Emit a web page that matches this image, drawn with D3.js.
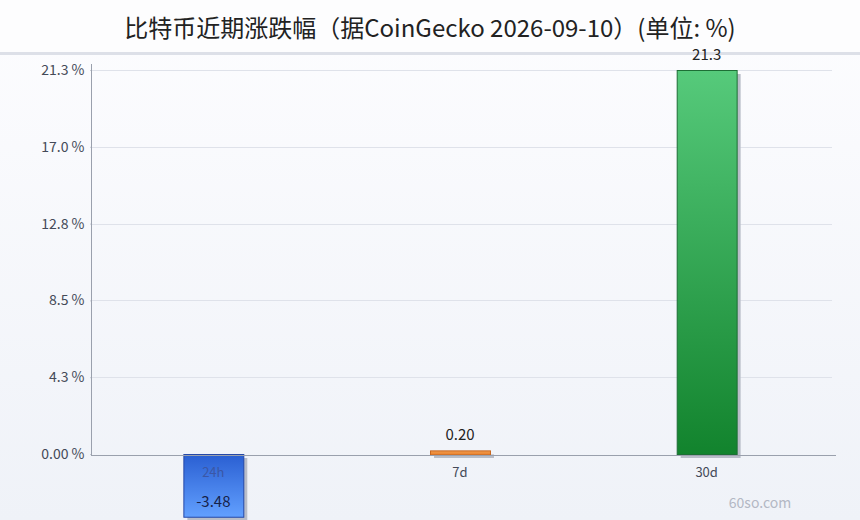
<!DOCTYPE html>
<html>
<head>
<meta charset="utf-8">
<script src="https://cdn.jsdelivr.net/npm/d3@7"></script>
<style>
  html, body { margin: 0; padding: 0; }
  body { width: 860px; height: 520px; overflow: hidden; }
  svg { display: block; font-family: "Noto Sans CJK SC", "Noto Sans", sans-serif; }
</style>
</head>
<body>
<div id="chart"></div>
<script>
'use strict';

// data
const titleText = "比特币近期涨跌幅（据CoinGecko 2026-09-10）(单位: %)";
const categories = ["24h", "7d", "30d"];
const changes = [-3.48, 0.20, 21.3];
const valueLabels = ["-3.48", "0.20", "21.3"];
const yTicks = [0, 4.26, 8.52, 12.78, 17.04, 21.3];
const yTickLabels = ["0.00 %", "4.3 %", "8.5 %", "12.8 %", "17.0 %", "21.3 %"];

const width = 860, height = 520;
const margin = {top: 70, right: 30, bottom: 65, left: 91};

const svg = d3.select("#chart").append("svg")
    .attr("width", width)
    .attr("height", height);

const defs = svg.append("defs");

// page background
const bg = defs.append("linearGradient").attr("id", "bg")
    .attr("x1", 0).attr("y1", 0).attr("x2", 0).attr("y2", 1);
bg.append("stop").attr("offset", "0%").attr("stop-color", "#fdfdff");
bg.append("stop").attr("offset", "100%").attr("stop-color", "#eff2f8");

svg.append("rect")
    .attr("width", width).attr("height", height)
    .attr("fill", "url(#bg)");

// title band
svg.append("rect")
    .attr("width", width).attr("height", 52)
    .attr("fill", "#fdfdfe");
svg.append("rect")
    .attr("y", 52).attr("width", width).attr("height", 3)
    .attr("fill", "#dde0e8");

svg.append("text")
    .attr("x", width / 2)
    .attr("y", 37)
    .attr("text-anchor", "middle")
    .attr("font-size", 24)
    .attr("font-weight", 400)
    .attr("fill", "#222")
    .text(titleText);

// bar gradients
const barStyles = [
    {id: "gBlue", top: "#2a5fd2", bottom: "#62a0ff", stroke: "#2448a8"},
    {id: "gOrange", top: "#f39a4c", bottom: "#e8822e", stroke: "#c8651c"},
    {id: "gGreen", top: "#56ca7b", bottom: "#12832d", stroke: "#1d6e35"}
];
barStyles.forEach(s => {
    const g = defs.append("linearGradient").attr("id", s.id)
        .attr("x1", 0).attr("y1", 0).attr("x2", 0).attr("y2", 1);
    g.append("stop").attr("offset", "0%").attr("stop-color", s.top);
    g.append("stop").attr("offset", "100%").attr("stop-color", s.bottom);
});

const x = d3.scaleBand()
    .domain(categories)
    .range([margin.left - 1, 830])
    .paddingInner(0.757)
    .paddingOuter(0.3785);

const y = d3.scaleLinear()
    .domain([0, 21.3])
    .range([454, margin.top]);

// grid lines
svg.append("g")
    .selectAll("line")
    .data(yTicks.slice(1))
    .enter().append("line")
    .attr("x1", margin.left)
    .attr("x2", 832)
    .attr("y1", d => Math.round(y(d)) + 0.5)
    .attr("y2", d => Math.round(y(d)) + 0.5)
    .attr("stroke", "#dfe2ea")
    .attr("stroke-width", 1);

// y axis
const yAxis = d3.axisLeft(y)
    .tickValues(yTicks)
    .tickFormat((d, i) => yTickLabels[i])
    .tickSize(5)
    .tickPadding(2);

const gy = svg.append("g")
    .attr("transform", `translate(${margin.left + 0.5},0)`)
    .call(yAxis);
gy.select(".domain").remove();
gy.selectAll(".tick line").attr("stroke", "#9aa0ad").attr("x2", 0).attr("x1", -1);
gy.selectAll(".tick text")
    .attr("font-family", "'Noto Sans CJK SC', sans-serif")
    .attr("font-size", 14)
    .attr("fill", "#444a58");
gy.append("line")
    .attr("y1", 64).attr("y2", 455)
    .attr("stroke", "#9aa0ad");

// bars
const bars = svg.append("g");
const barData = categories.map((c, i) => ({cat: c, value: changes[i], label: valueLabels[i], style: barStyles[i]}));

bars.selectAll(".shadow")
    .data(barData)
    .enter().append("rect")
    .attr("class", "shadow")
    .attr("x", d => x(d.cat) + 4)
    .attr("y", d => Math.min(y(d.value), y(0)) + 4)
    .attr("width", x.bandwidth())
    .attr("height", d => Math.max(Math.abs(y(d.value) - y(0)), 1))
    .attr("fill", "#b9bdc8");

bars.selectAll(".bar")
    .data(barData)
    .enter().append("rect")
    .attr("class", "bar")
    .attr("x", d => x(d.cat) + 0.5)
    .attr("y", d => Math.min(y(d.value), y(0)) + 0.5)
    .attr("width", x.bandwidth())
    .attr("height", d => Math.max(Math.abs(y(d.value) - y(0)), 4))
    .attr("fill", d => `url(#${d.style.id})`)
    .attr("stroke", d => d.style.stroke)
    .attr("stroke-width", 1);

// x axis line
svg.append("line")
    .attr("x1", margin.left).attr("x2", 836)
    .attr("y1", 455.5).attr("y2", 455.5)
    .attr("stroke", "#9aa0ad");

// category labels
svg.append("g")
    .selectAll("text")
    .data(barData)
    .enter().append("text")
    .attr("x", d => x(d.cat) + x.bandwidth() / 2)
    .attr("y", 477)
    .attr("text-anchor", "middle")
    .attr("font-size", 13)
    .attr("fill", d => d.value < 0 ? "#3b57a6" : "#444a58")
    .text(d => d.cat);

// value labels
svg.append("g")
    .selectAll("text")
    .data(barData)
    .enter().append("text")
    .attr("x", d => x(d.cat) + x.bandwidth() / 2)
    .attr("y", d => d.value < 0 ? y(d.value) - 10 : y(d.value) - 10)
    .attr("text-anchor", "middle")
    .attr("font-size", 15)
    .attr("fill", d => d.value < 0 ? "#16224a" : "#222")
    .text(d => d.label);

// watermark
svg.append("text")
    .attr("x", 760)
    .attr("y", 508)
    .attr("text-anchor", "middle")
    .attr("font-size", 14)
    .attr("fill", "#b3b8c4")
    .text("60so.com");
</script>
</body>
</html>
